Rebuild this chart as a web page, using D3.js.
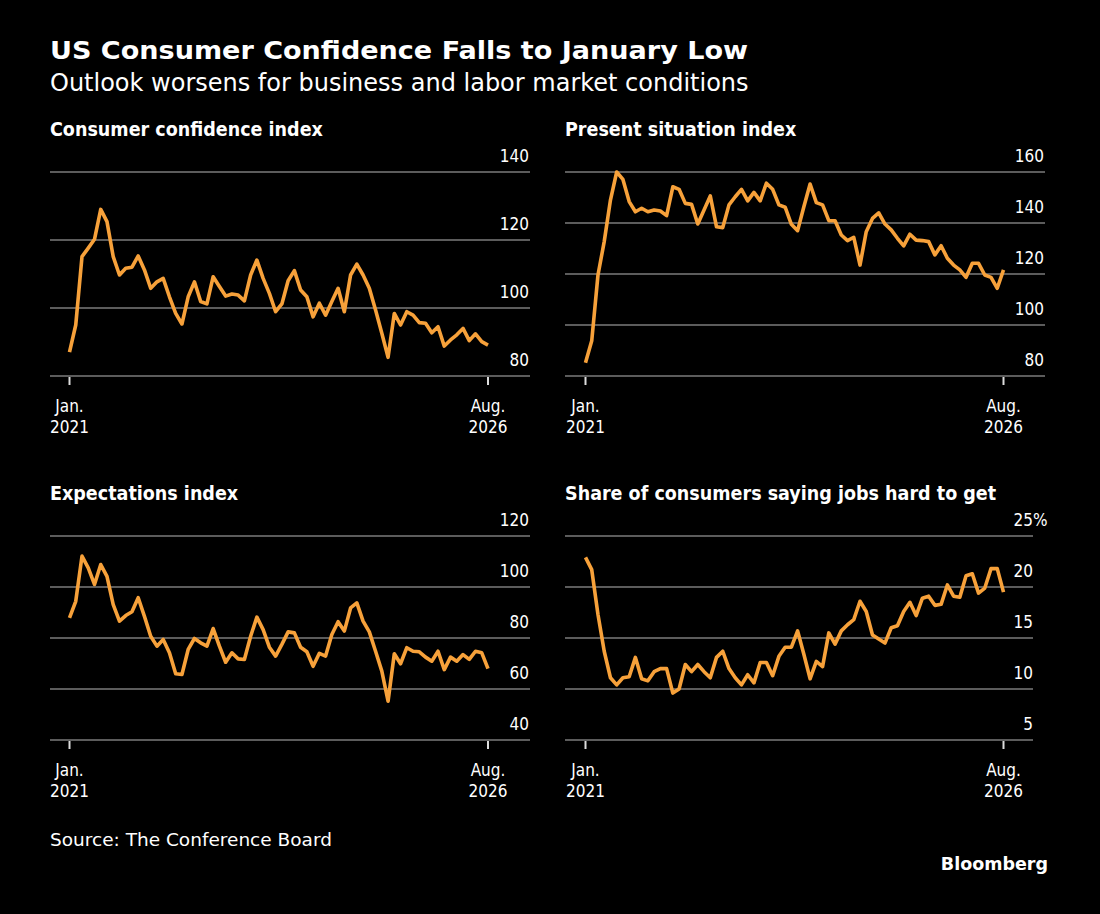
<!DOCTYPE html>
<html>
<head>
<meta charset="utf-8">
<style>
  body { margin: 0; background: #000; }
  svg { display: block; }
</style>
</head>
<body>
<script src="https://d3js.org/d3.v7.min.js"></script>
<div id="chart"></div>
<script>

// monthly readings, Jan. 2021 to Aug. 2026
var confidence = [87.0, 95.0, 115.1, 117.6, 120.2, 129.0, 125.4, 115.1, 109.7, 111.7, 112.0, 115.3,
  111.2, 105.8, 107.7, 108.7, 103.3, 98.4, 95.3, 103.3, 107.7, 101.9, 101.2, 109.2,
  106.3, 103.5, 104.1, 103.8, 102.1, 109.7, 114.1, 108.7, 104.3, 98.9, 101.2, 108.0,
  111.0, 105.3, 103.3, 97.4, 101.4, 97.9, 101.9, 105.8, 98.9, 109.7, 112.9, 109.7,
  105.8, 99.4, 92.6, 85.5, 98.4, 95.0, 98.9, 97.9, 95.7, 95.5, 92.7, 94.5,
  88.8, 90.6, 92.1, 94.0, 90.4, 92.4, 90.1, 89.1];

var present = [85.2, 93.8, 119.6, 132.7, 149.0, 160.0, 157.1, 148.4, 144.4, 145.8, 144.4, 145.1,
  144.7, 142.9, 154.2, 153.2, 147.7, 147.3, 139.6, 145.1, 150.6, 138.5, 138.2, 147.1,
  150.3, 153.2, 148.7, 152.0, 148.7, 155.6, 153.2, 147.1, 146.2, 139.5, 137.0, 146.4,
  155.3, 148.0, 147.1, 140.9, 140.9, 135.3, 133.1, 134.4, 123.5, 136.6, 141.8, 144.0,
  139.6, 137.3, 134.0, 131.0, 135.6, 133.3, 133.1, 132.7, 127.5, 131.1, 126.2, 123.5,
  121.6, 118.7, 124.2, 124.2, 119.6, 118.7, 114.4, 121.6];

var expectations = [87.9, 94.4, 112.1, 107.5, 101.0, 108.8, 104.2, 93.1, 86.6, 88.8, 90.3, 95.8,
  88.5, 80.7, 76.8, 79.4, 74.2, 66.0, 65.7, 75.5, 79.8, 78.1, 76.8, 83.7,
  76.8, 70.5, 74.2, 71.8, 71.6, 80.7, 88.2, 83.3, 76.4, 72.9, 77.5, 82.4,
  82.0, 76.4, 74.6, 68.9, 74.0, 72.9, 81.4, 86.4, 82.7, 91.8, 93.8, 86.6,
  82.4, 74.8, 67.0, 55.2, 73.8, 69.9, 76.2, 74.8, 74.6, 72.5, 70.9, 74.8,
  67.6, 72.5, 70.9, 73.5, 71.6, 74.8, 74.2, 68.0];

var jobsHard = [22.9, 21.7, 17.3, 13.7, 11.1, 10.4, 11.1, 11.2, 13.1, 11.0, 10.8, 11.7,
  12.0, 12.0, 9.6, 10.0, 12.4, 11.7, 12.4, 11.7, 11.1, 13.1, 13.7, 12.0,
  11.1, 10.4, 11.4, 10.6, 12.6, 12.6, 11.3, 13.2, 14.1, 14.1, 15.7, 13.4,
  11.0, 12.7, 12.2, 15.5, 14.4, 15.7, 16.3, 16.8, 18.6, 17.6, 15.3, 14.9,
  14.5, 16.0, 16.2, 17.6, 18.5, 17.2, 18.9, 19.1, 18.2, 18.3, 20.2, 19.1,
  19.0, 21.1, 21.3, 19.4, 19.9, 21.8, 21.8, 19.5];

var panelTitles = ["Consumer confidence index", "Present situation index",
  "Expectations index", "Share of consumers saying jobs hard to get"];

var confidenceTicks = [80, 100, 120, 140];
var presentTicks = [80, 100, 120, 140, 160];
var expectationsTicks = [40, 60, 80, 100, 120];
var jobsTicks = [5, 10, 15, 20, 25];

var firstLabel = ["Jan.", "2021"];
var lastLabel = ["Aug.", "2026"];

var orange = "#f7a13a";
var grid = "#5c5c5c";

var svg = d3.select("#chart")
  .append("svg")
    .attr("width", 1100)
    .attr("height", 914)
    .style("background", "#000");

svg.append("text")
  .attr("x", 50).attr("y", 59)
  .attr("fill", "#fff")
  .attr("textLength", 698)
  .attr("lengthAdjust", "spacingAndGlyphs")
  .style("font-family", "DejaVu Sans")
  .style("font-weight", "bold")
  .style("font-size", "24px")
  .text("US Consumer Confidence Falls to January Low");

svg.append("text")
  .attr("x", 50).attr("y", 91)
  .attr("fill", "#fff")
  .style("font-family", "DejaVu Sans")
  .style("font-size", "24px")
  .text("Outlook worsens for business and labor market conditions");

function drawPanel(p) {
  var g = svg.append("g");

  var x = d3.scaleLinear()
    .domain([0, p.values.length - 1])
    .range([p.x0, p.x1]);

  var y = d3.scaleLinear()
    .domain(d3.extent(p.ticks))
    .range([p.bottom, p.top]);

  g.append("text")
    .attr("x", p.left).attr("y", p.top - 36)
    .attr("fill", "#fff")
    .style("font-family", "DejaVu Sans Condensed")
    .style("font-weight", "bold")
    .style("font-size", "19.5px")
    .text(p.title);

  // grid lines with the value sitting above the right end
  g.selectAll(".grid")
    .data(p.ticks)
    .enter()
    .append("line")
      .attr("x1", p.left)
      .attr("x2", p.right)
      .attr("y1", function(d) { return y(d); })
      .attr("y2", function(d) { return y(d); })
      .attr("stroke", grid)
      .attr("stroke-width", 2);

  g.selectAll(".lab")
    .data(p.ticks)
    .enter()
    .append("text")
      .attr("x", p.labelX)
      .attr("y", function(d) { return y(d) - 10; })
      .attr("text-anchor", "end")
      .attr("fill", "#fff")
      .style("font-family", "DejaVu Sans Condensed")
      .style("font-size", "17px")
      .text(function(d) { return d; });

  if (p.suffix) {
    g.append("text")
      .attr("x", p.labelX)
      .attr("y", y(p.ticks[p.ticks.length - 1]) - 10)
      .attr("fill", "#fff")
      .style("font-family", "DejaVu Sans Condensed")
      .style("font-size", "17px")
      .text(p.suffix);
  }

  // x ticks at both ends
  var ends = [0, p.values.length - 1];
  var endLabels = [firstLabel, lastLabel];
  g.selectAll(".tick")
    .data(ends)
    .enter()
    .append("line")
      .attr("x1", function(d) { return x(d); })
      .attr("x2", function(d) { return x(d); })
      .attr("y1", p.bottom + 1)
      .attr("y2", p.bottom + 9)
      .attr("stroke", "#ddd")
      .attr("stroke-width", 2);

  ends.forEach(function(d, i) {
    var t = g.append("text")
      .attr("x", x(d))
      .attr("y", p.bottom + 36)
      .attr("text-anchor", "middle")
      .attr("fill", "#fff")
      .style("font-family", "DejaVu Sans Condensed")
      .style("font-size", "17px");
    t.append("tspan").attr("x", x(d)).text(endLabels[i][0]);
    t.append("tspan").attr("x", x(d)).attr("dy", 21).text(endLabels[i][1]);
  });

  var line = d3.line()
    .x(function(d, i) { return x(i); })
    .y(function(d) { return y(d); });

  g.append("path")
    .datum(p.values)
    .attr("d", line)
    .attr("fill", "none")
    .attr("stroke", orange)
    .attr("stroke-width", 3.6)
    .attr("stroke-linejoin", "round");
}

drawPanel({ title: panelTitles[0], values: confidence, ticks: confidenceTicks,
  left: 50, right: 530, labelX: 529, x0: 69.5, x1: 488, top: 172, bottom: 376 });
drawPanel({ title: panelTitles[1], values: present, ticks: presentTicks,
  left: 565, right: 1045, labelX: 1044, x0: 585.5, x1: 1003.5, top: 172, bottom: 376 });
drawPanel({ title: panelTitles[2], values: expectations, ticks: expectationsTicks,
  left: 50, right: 530, labelX: 529, x0: 69.5, x1: 488, top: 536, bottom: 740 });
drawPanel({ title: panelTitles[3], values: jobsHard, ticks: jobsTicks, suffix: "%",
  left: 565, right: 1033, labelX: 1033, x0: 585.5, x1: 1003.5, top: 536, bottom: 740 });

svg.append("text")
  .attr("x", 50).attr("y", 846)
  .attr("fill", "#fff")
  .style("font-family", "DejaVu Sans")
  .style("font-size", "18.5px")
  .text("Source: The Conference Board");

svg.append("text")
  .attr("x", 1048).attr("y", 870)
  .attr("text-anchor", "end")
  .attr("fill", "#fff")
  .style("font-family", "DejaVu Sans")
  .style("font-weight", "bold")
  .style("font-size", "17.5px")
  .text("Bloomberg");

</script>
</body>
</html>
